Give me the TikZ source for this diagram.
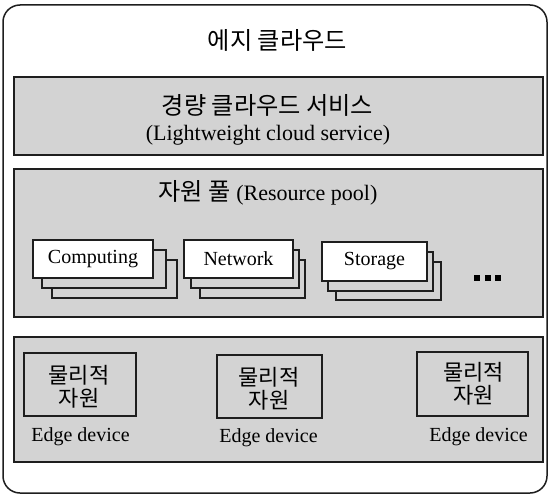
\documentclass[tikz,border=0pt]{standalone}
\usepackage{fontspec}
\setmainfont{Liberation Serif}
\newfontfamily\kr[Scale=1.1]{Noto Sans CJK KR}
\definecolor{panelgray}{RGB}{211,211,211}
\definecolor{inkline}{RGB}{30,30,30}
\begin{document}
\begin{tikzpicture}[x=1pt,y=-1pt,
  frame/.style={draw=inkline, line width=1.5pt, rounded corners=17pt, inner sep=0pt, outer sep=0pt},
  panel/.style={draw=inkline, line width=1.2pt, fill=panelgray, inner sep=0pt, outer sep=0pt},
  frontcard/.style={draw=inkline, line width=1.1pt, fill=white, inner sep=0pt, outer sep=0pt},
  backcard/.style={draw=inkline, line width=1.1pt, fill=panelgray, inner sep=0pt, outer sep=0pt},
  physbox/.style={draw=inkline, line width=1.1pt, fill=panelgray, inner sep=0pt, outer sep=0pt},
  bigtext/.style={font=\fontsize{22}{26}\selectfont, inner sep=0pt, text=black},
  smalltext/.style={font=\fontsize{20}{23}\selectfont, inner sep=0pt, text=black, align=center},
  dot/.style={fill=black, inner sep=0pt, minimum size=6pt}]
\useasboundingbox (0,0) rectangle (549,495);

% outer edge-cloud frame
\node[frame, minimum width=544pt, minimum height=488pt] (edgecloud) at (275,249) {};
\node[bigtext] (title) at (277.5,40) {\kr 에지 클라우드};

% lightweight cloud service layer
\node[panel, minimum width=529pt, minimum height=78pt] (service) at (278.5,116) {};
\node[bigtext] (servicekr) at (267.5,105) {\kr 경량 클라우드 서비스};
\node[bigtext] (serviceen) at (268,135) {(Lightweight cloud service)};

% resource pool layer
\node[panel, minimum width=529pt, minimum height=148pt] (pool) at (278.5,243) {};
\node[bigtext] (pooltitle) at (268,193) {{\kr 자원 풀} (Resource pool)};

% stacked resource cards
\node[backcard, minimum width=125pt, minimum height=38pt] (comp3) at (114.5,279) {};
\node[backcard, minimum width=124pt, minimum height=38pt] (comp2) at (104,269) {};
\node[frontcard, minimum width=120pt, minimum height=38pt, smalltext] (comp) at (93,259) {Computing};

\node[backcard, minimum width=105pt, minimum height=38pt] (net3) at (252.5,279) {};
\node[backcard, minimum width=108pt, minimum height=38pt] (net2) at (245,269) {};
\node[frontcard, minimum width=109pt, minimum height=38pt, smalltext] (net) at (238.5,259) {Network};

\node[backcard, minimum width=105pt, minimum height=38pt] (stor3) at (388.5,281) {};
\node[backcard, minimum width=105pt, minimum height=39pt] (stor2) at (380.5,271.5) {};
\node[frontcard, minimum width=105pt, minimum height=39pt, smalltext] (stor) at (374.5,261.5) {Storage};

\node[dot] (dotA) at (477,277.5) {};
\node[dot] (dotB) at (487.5,277.5) {};
\node[dot] (dotC) at (498,277.5) {};

% edge device layer
\node[panel, minimum width=529pt, minimum height=125pt] (devices) at (278.5,399.5) {};

\node[physbox, minimum width=112pt, minimum height=63pt] (phys1) at (80,384.5) {};
\node[smalltext] (phys1txt) at (79,386.5) {\kr 물리적\\\kr 자원};
\node[smalltext] (dev1) at (80.5,437) {Edge device};

\node[physbox, minimum width=105pt, minimum height=63pt] (phys2) at (269.5,386.5) {};
\node[smalltext] (phys2txt) at (269,388.5) {\kr 물리적\\\kr 자원};
\node[smalltext] (dev2) at (268.5,438) {Edge device};

\node[physbox, minimum width=111pt, minimum height=64pt] (phys3) at (472.5,384) {};
\node[smalltext] (phys3txt) at (473.5,383.5) {\kr 물리적\\\kr 자원};
\node[smalltext] (dev3) at (478.5,437) {Edge device};
\end{tikzpicture}
\end{document}
